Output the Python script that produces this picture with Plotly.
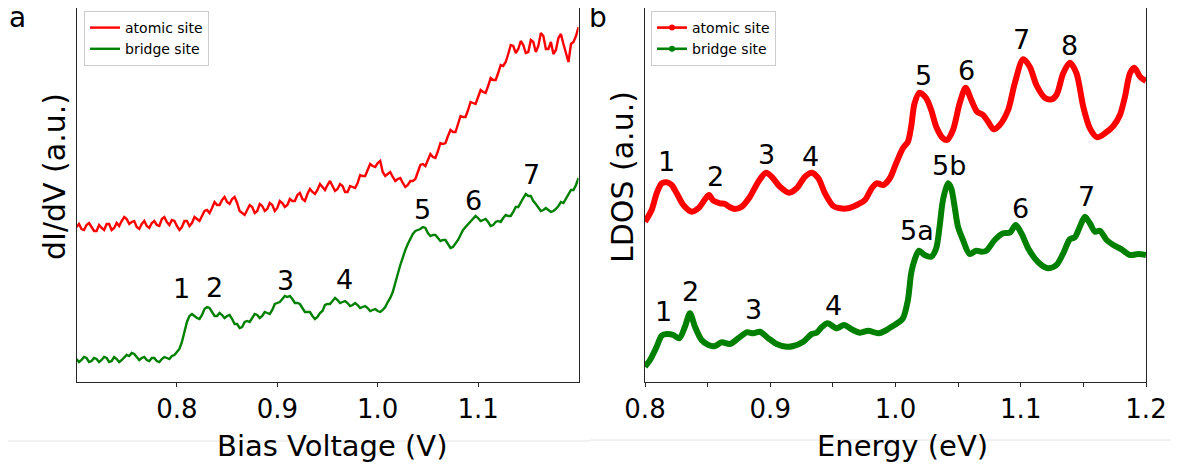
import numpy as np
import plotly.graph_objects as go

# The page adds an 8 px body margin; all positions below are given in the
# screenshot's pixel frame and converted to the figure frame.
OFF = 8
W, H = 1179 - OFF, 464 - OFF


def px(x):
    return (x - OFF) / W


def py(y):
    return 1 - (y - OFF) / H


# ---------------- Panel a : experimental dI/dV ----------------
bias_v = np.round(np.linspace(0.70, 1.20, 201), 4)
didv_atomic = [155, 158, 153, 152, 157, 159, 155, 151, 151, 157, 154, 152, 158, 158, 152, 154, 159, 156, 161, 165,
               163, 158, 160, 161, 155, 153, 158, 161, 156, 154, 159, 161, 157, 156, 163, 165, 160, 157, 162, 161,
               156, 152, 155, 161, 161, 156, 159, 165, 163, 161, 166, 171, 172, 169, 174, 180, 177, 177, 182, 185,
               180, 178, 183, 185, 179, 171, 169, 167, 172, 177, 175, 169, 171, 178, 176, 171, 173, 179, 177, 171,
               174, 181, 179, 175, 177, 183, 181, 181, 187, 189, 183, 181, 188, 193, 190, 188, 192, 198, 195, 192,
               197, 201, 196, 191, 193, 198, 196, 190, 190, 196, 195, 194, 199, 207, 206, 206, 212, 218, 216, 215,
               219, 221, 210, 206, 208, 210, 205, 201, 203, 204, 199, 195, 197, 201, 201, 203, 210, 217, 218, 216,
               222, 228, 225, 224, 231, 239, 238, 239, 246, 252, 250, 250, 258, 266, 265, 265, 272, 280, 279, 278,
               285, 292, 290, 289, 296, 304, 302, 302, 309, 317, 316, 320, 328, 337, 336, 329, 333, 341, 337, 329,
               330, 342, 340, 330, 336, 349, 346, 333, 333, 340, 328, 332, 344, 348, 338, 330, 320, 338, 340, 346,
               355]
didv_bridge = [23, 20, 22, 25, 24, 20, 21, 24, 23, 20, 22, 25, 24, 20, 21, 25, 23, 20, 22, 25,
               27, 26, 29, 28, 25, 22, 24, 25, 22, 21, 24, 24, 21, 20, 23, 25, 24, 23, 26, 27,
               30, 33, 40, 50, 60, 66, 68, 66, 64, 63, 67, 73, 75, 74, 70, 66, 66, 69, 67, 64,
               66, 67, 63, 58, 58, 54, 55, 60, 61, 60, 64, 68, 67, 64, 66, 70, 69, 68, 72, 78,
               79, 80, 83, 86, 85, 86, 83, 79, 79, 78, 74, 70, 70, 70, 66, 63, 65, 69, 71, 77,
               78, 78, 81, 84, 82, 79, 80, 81, 79, 76, 77, 79, 77, 74, 75, 76, 74, 71, 72, 73,
               71, 70, 72, 75, 80, 84, 90, 98, 108, 117, 125, 132, 138, 143, 148, 151, 152, 153, 155, 154,
               149, 146, 147, 147, 144, 141, 142, 142, 138, 134, 135, 138, 142, 147, 152, 155, 158, 161, 163, 166,
               164, 161, 162, 163, 160, 156, 157, 160, 161, 160, 164, 167, 166, 166, 170, 175, 175, 180, 184, 188,
               186, 186, 181, 178, 174, 171, 172, 174, 172, 170, 171, 173, 176, 180, 179, 183, 188, 192, 192, 197,
               204]

a_lbl_text = ["1", "2", "3", "4", "5", "6", "7"]
a_lbl_x = [0.8041, 0.8373, 0.9077, 0.9667, 1.0448, 1.0959, 1.1527]
a_lbl_y = [93.7, 94.7, 101.3, 102.7, 172.7, 182.0, 207.7]

# ---------------- Panel b : calculated LDOS ----------------
energy_atomic = [0.8000, 0.8053, 0.8093, 0.8133, 0.8173, 0.8213, 0.8253, 0.8306, 0.8373, 0.8426,
                 0.8479, 0.8511, 0.8546, 0.8599, 0.8639, 0.8679, 0.8718, 0.8772, 0.8838, 0.8905,
                 0.8966, 0.9011, 0.9078, 0.9150, 0.9211, 0.9277, 0.9331, 0.9384, 0.9437, 0.9503,
                 0.9557, 0.9623, 0.9690, 0.9756, 0.9810, 0.9850, 0.9903, 0.9956, 1.0005, 1.0059,
                 1.0099, 1.0125, 1.0152, 1.0192, 1.0245, 1.0285, 1.0325, 1.0379, 1.0411, 1.0459,
                 1.0512, 1.0560, 1.0605, 1.0651, 1.0699, 1.0739, 1.0784, 1.0832, 1.0899, 1.0952,
                 1.1019, 1.1072, 1.1125, 1.1192, 1.1245, 1.1285, 1.1339, 1.1392, 1.1445, 1.1499,
                 1.1552, 1.1611, 1.1672, 1.1739, 1.1792, 1.1832, 1.1872, 1.1907, 1.1952, 1.2000]
ldos_atomic = [160.3, 172.0, 188.7, 198.7, 199.7, 197.0, 188.7, 177.0, 170.3, 173.7,
               182.7, 187.0, 181.3, 178.7, 178.0, 174.7, 173.0, 175.3, 185.3, 200.3,
               209.3, 205.3, 195.3, 189.3, 193.7, 205.3, 209.3, 203.7, 188.7, 176.0,
               173.7, 173.7, 177.0, 182.0, 193.7, 198.7, 197.0, 204.0, 218.7, 233.7,
               240.3, 255.3, 278.7, 289.3, 283.7, 272.0, 255.3, 243.7, 242.0, 252.0,
               278.7, 294.3, 282.0, 270.3, 267.0, 260.3, 252.7, 257.0, 272.0, 298.7,
               322.7, 315.3, 297.0, 284.3, 282.7, 287.0, 308.7, 319.3, 308.7, 275.3,
               253.7, 244.7, 248.7, 256.0, 267.0, 285.3, 308.7, 314.3, 305.3, 301.0]

energy_bridge = [0.8000, 0.8040, 0.8093, 0.8133, 0.8173, 0.8226, 0.8274, 0.8319, 0.8359, 0.8399,
                 0.8452, 0.8506, 0.8559, 0.8612, 0.8679, 0.8745, 0.8812, 0.8865, 0.8918, 0.8985,
                 0.9051, 0.9131, 0.9184, 0.9264, 0.9331, 0.9371, 0.9410, 0.9458, 0.9530, 0.9589,
                 0.9650, 0.9716, 0.9783, 0.9863, 0.9929, 0.9952, 1.0005, 1.0059, 1.0099, 1.0125,
                 1.0152, 1.0187, 1.0232, 1.0285, 1.0325, 1.0352, 1.0379, 1.0419, 1.0445, 1.0472,
                 1.0499, 1.0539, 1.0592, 1.0645, 1.0685, 1.0725, 1.0792, 1.0859, 1.0912, 1.0960,
                 1.1005, 1.1059, 1.1112, 1.1165, 1.1219, 1.1285, 1.1339, 1.1392, 1.1432, 1.1472,
                 1.1512, 1.1552, 1.1592, 1.1632, 1.1685, 1.1739, 1.1805, 1.1872, 1.1939, 1.2000]
ldos_bridge = [15.3, 22.0, 35.3, 46.3, 48.0, 47.0, 43.7, 55.3, 68.7, 55.3,
               42.0, 37.0, 36.0, 39.7, 38.0, 43.7, 49.7, 48.7, 50.3, 43.7,
               38.0, 35.3, 36.0, 40.3, 48.0, 49.3, 54.7, 58.7, 53.7, 57.0,
               52.7, 49.3, 51.3, 48.7, 52.0, 54.0, 58.0, 63.7, 82.0, 108.7,
               122.0, 131.3, 127.0, 125.3, 133.7, 155.3, 182.0, 198.7, 193.7, 175.3,
               155.3, 142.0, 128.0, 131.3, 130.3, 131.3, 142.0, 148.7, 149.3, 157.0,
               148.7, 133.7, 123.7, 117.0, 113.7, 117.0, 128.7, 142.7, 144.7, 155.3,
               165.3, 158.7, 150.3, 151.3, 142.0, 137.0, 132.7, 127.0, 128.0, 127.0]

b_red_lbl_text = ["1", "2", "3", "4", "5", "6", "7", "8"]
b_red_lbl_x = [0.8168, 0.8559, 0.8971, 0.9322, 1.0220, 1.0567, 1.1006, 1.1392]
b_red_lbl_y = [220.3, 205.3, 228.0, 226.0, 307.0, 312.0, 342.7, 337.0]
b_grn_lbl_text = ["1", "2", "3", "4", "5a", "5b", "6", "7"]
b_grn_lbl_x = [0.8146, 0.8365, 0.8864, 0.9508, 1.0168, 1.0429, 1.1001, 1.1525]
b_grn_lbl_y = [70.3, 90.3, 72.7, 77.0, 152.0, 216.3, 173.7, 185.3]

a_ticks = [0.8, 0.9, 1.0, 1.1]
a_ticktext = ["0.8", "0.9", "1.0", "1.1"]
b_ticks = [0.8, 0.85, 0.9, 0.95, 1.0, 1.05, 1.1, 1.15, 1.2]
b_ticktext = ["0.8", "", "0.9", "", "1.0", "", "1.1", "", "1.2"]

RED = "#ff0000"
GREEN = "#008000"
FONT = "DejaVu Sans"
AX = "#262626"

fig = go.Figure()

# panel a
fig.add_trace(go.Scatter(x=bias_v, y=didv_atomic, mode="lines", name="atomic site",
                         line=dict(color=RED, width=2.4), xaxis="x", yaxis="y", legend="legend"))
fig.add_trace(go.Scatter(x=bias_v, y=didv_bridge, mode="lines", name="bridge site",
                         line=dict(color=GREEN, width=2.4), xaxis="x", yaxis="y", legend="legend"))

# panel b
fig.add_trace(go.Scatter(x=energy_atomic, y=ldos_atomic, mode="lines", showlegend=False,
                         line=dict(color=RED, width=6, shape="spline", smoothing=0.8),
                         xaxis="x2", yaxis="y2"))
fig.add_trace(go.Scatter(x=energy_bridge, y=ldos_bridge, mode="lines", showlegend=False,
                         line=dict(color=GREEN, width=6, shape="spline", smoothing=0.8),
                         xaxis="x2", yaxis="y2"))
fig.add_trace(go.Scatter(x=[None], y=[None], mode="lines+markers", name="atomic site",
                         line=dict(color=RED, width=2.6), marker=dict(color=RED, size=6),
                         xaxis="x2", yaxis="y2", legend="legend2"))
fig.add_trace(go.Scatter(x=[None], y=[None], mode="lines+markers", name="bridge site",
                         line=dict(color=GREEN, width=2.6), marker=dict(color=GREEN, size=6),
                         xaxis="x2", yaxis="y2", legend="legend2"))

lbl_font = dict(family=FONT, size=27, color="black")
annotations = []
for t, x, y in zip(a_lbl_text, a_lbl_x, a_lbl_y):
    annotations.append(dict(text=t, x=x, y=y, xref="x", yref="y", showarrow=False,
                            xanchor="center", yanchor="middle", font=lbl_font))
for t, x, y in zip(b_red_lbl_text, b_red_lbl_x, b_red_lbl_y):
    annotations.append(dict(text=t, x=x, y=y, xref="x2", yref="y2", showarrow=False,
                            xanchor="center", yanchor="middle", font=lbl_font))
for t, x, y in zip(b_grn_lbl_text, b_grn_lbl_x, b_grn_lbl_y):
    annotations.append(dict(text=t, x=x, y=y, xref="x2", yref="y2", showarrow=False,
                            xanchor="center", yanchor="middle", font=lbl_font))

# titles and panel letters
title_font = dict(family=FONT, size=29, color="black")
ytitle_font = dict(family=FONT, size=30, color="black")
letter_font = dict(family=FONT, size=28, color="black")
annotations += [
    dict(text="Bias Voltage (V)", x=px(332), y=py(446), xref="paper", yref="paper",
         showarrow=False, xanchor="center", yanchor="middle", font=title_font),
    dict(text="Energy (eV)", x=px(902), y=py(446), xref="paper", yref="paper",
         showarrow=False, xanchor="center", yanchor="middle", font=title_font),
    dict(text="dI/dV (a.u.)", x=px(54), y=py(177), xref="paper", yref="paper",
         showarrow=False, xanchor="center", yanchor="middle", textangle=-90, font=ytitle_font),
    dict(text="LDOS (a.u.)", x=px(622), y=py(177), xref="paper", yref="paper",
         showarrow=False, xanchor="center", yanchor="middle", textangle=-90, font=ytitle_font),
    dict(text="a", x=px(17), y=py(18), xref="paper", yref="paper",
         showarrow=False, xanchor="center", yanchor="middle", font=letter_font),
    dict(text="b", x=px(598), y=py(18), xref="paper", yref="paper",
         showarrow=False, xanchor="center", yanchor="middle", font=letter_font),
]

shapes = [
    dict(type="line", xref="paper", yref="paper", x0=px(8), x1=px(590),
         y0=py(441), y1=py(441), line=dict(color="#e4e4e4", width=1), layer="below"),
    dict(type="line", xref="paper", yref="paper", x0=px(590), x1=1.0,
         y0=py(440), y1=py(440), line=dict(color="#e4e4e4", width=1), layer="below"),
]

ydom = [py(382), py(8)]
common_x = dict(ticks="outside", ticklen=4, tickwidth=1, tickcolor=AX, showline=True,
                mirror=True, linecolor=AX, linewidth=1.2, showgrid=False, zeroline=False,
                automargin=False, tickfont=dict(family=FONT, size=26, color="black"))
common_y = dict(showticklabels=False, ticks="", showline=True, mirror=True, linecolor=AX,
                linewidth=1.2, showgrid=False, zeroline=False, range=[0, 374], domain=ydom,
                automargin=False)

legend_common = dict(xanchor="left", yanchor="top", bgcolor="white", bordercolor="#cccccc",
                     borderwidth=1, font=dict(family=FONT, size=14, color="black"),
                     tracegroupgap=0)

fig.update_layout(
    width=W, height=H, margin=dict(l=0, r=0, t=0, b=0, pad=0, autoexpand=False),
    paper_bgcolor="white", plot_bgcolor="white",
    font=dict(family=FONT),
    xaxis=dict(domain=[px(76.5), px(578.5)], range=[0.7, 1.2], tickvals=a_ticks,
               ticktext=a_ticktext, anchor="y", **common_x),
    yaxis=dict(anchor="x", **common_y),
    xaxis2=dict(domain=[px(645), px(1146)], range=[0.8, 1.2], tickvals=b_ticks,
                ticktext=b_ticktext, anchor="y2", **common_x),
    yaxis2=dict(anchor="x2", **common_y),
    legend=dict(x=px(84), y=py(11), **legend_common),
    legend2=dict(x=px(651), y=py(11), **legend_common),
    annotations=annotations,
    shapes=shapes,
)

fig.write_html("out.html")
